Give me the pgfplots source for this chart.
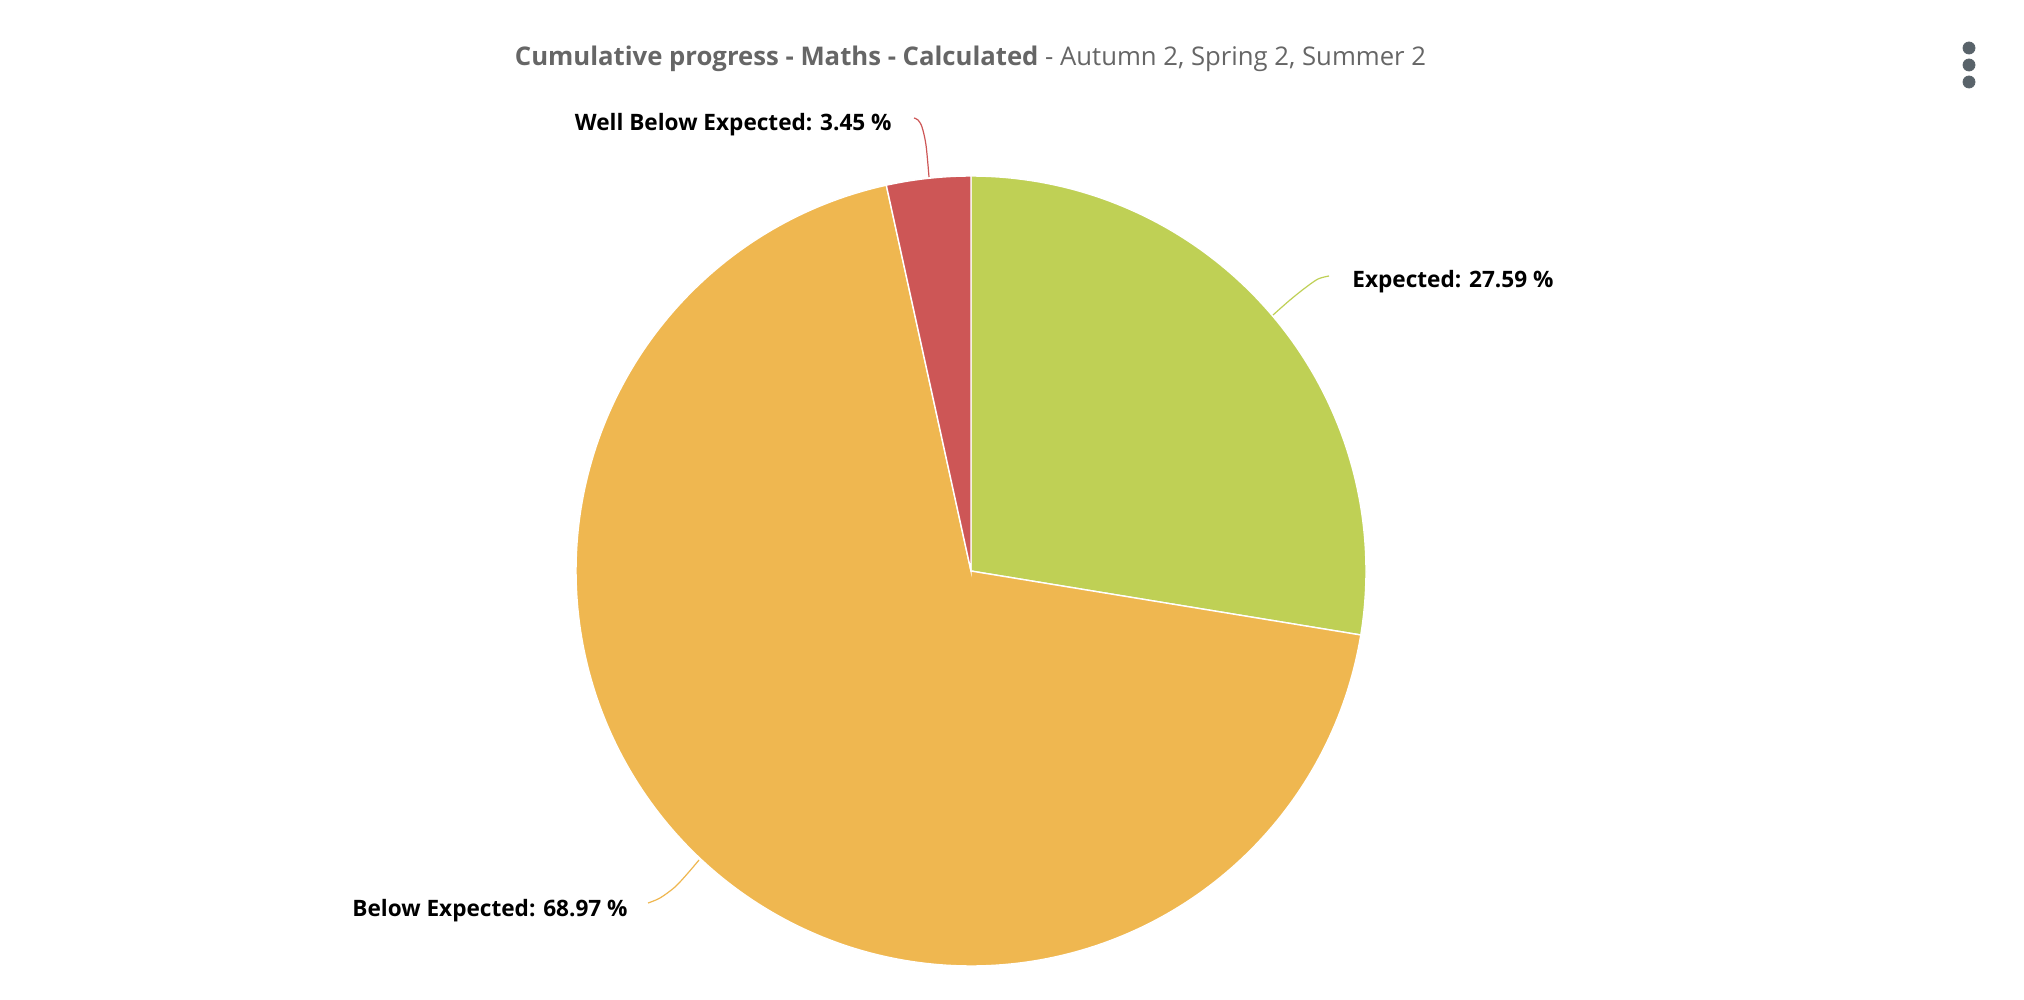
\documentclass[border=0pt]{standalone}
\usepackage{pgfplots}
\pgfplotsset{compat=1.18}
\usepackage{fontspec}
\setmainfont{Open Sans}
\definecolor{pgreen}{HTML}{BFD055}
\definecolor{porange}{HTML}{EFB750}
\definecolor{pred}{HTML}{CD5656}
\definecolor{ptitle}{HTML}{666666}
\definecolor{pdots}{HTML}{59636A}
\begin{document}
\begin{tikzpicture}
\begin{axis}[
  scale only axis, width=1012pt, height=500pt,
  xmin=0, xmax=2024, ymin=0, ymax=1000, y dir=reverse,
  hide axis, clip=false, trig format plots=deg,
]
% invisible frame for page size
\addplot[draw=none, fill=white] coordinates {(0,0) (2024,0) (2024,1000) (0,1000)} -- cycle;
% pie slices: Expected 27.59, Below Expected 68.97, Well Below Expected 3.45 (percent, clockwise from top)
\addplot[fill=pgreen, draw=white, line width=0.7pt, domain=0:27.59, samples=120, variable=\t]
  ({971+395*sin(3.6*\t)}, {571-395*cos(3.6*\t)}) -- (axis cs:971,571) -- cycle;
\addplot[fill=porange, draw=white, line width=0.7pt, domain=27.59:96.56, samples=240, variable=\t]
  ({971+395*sin(3.6*\t)}, {571-395*cos(3.6*\t)}) -- (axis cs:971,571) -- cycle;
\addplot[fill=pred, draw=white, line width=0.7pt, domain=96.56:100, samples=30, variable=\t]
  ({971+395*sin(3.6*\t)}, {571-395*cos(3.6*\t)}) -- (axis cs:971,571) -- cycle;
% connectors
\addplot[pgreen, line width=0.6pt, smooth] coordinates {(1273,315) (1290,300) (1305,288) (1318,279) (1329,276)};
\addplot[porange, line width=0.6pt, smooth] coordinates {(699,860) (688,873) (675,887) (660,898) (648,903)};
\addplot[pred, line width=0.6pt, smooth] coordinates {(929,177) (926,145) (922,127) (918,120) (914,118)};
% menu dots
\addplot[only marks, mark=*, mark size=3pt, color=pdots] coordinates {(1969,48) (1969,65) (1969,82)};
% labels
\node[anchor=base west, inner sep=0, font=\bfseries\fontsize{11.3pt}{13pt}\selectfont] at (axis cs:1352,288) {Expected: 27.59 \%};
\node[anchor=base east, inner sep=0, font=\bfseries\fontsize{11.3pt}{13pt}\selectfont] at (axis cs:892,131) {Well Below Expected: 3.45 \%};
\node[anchor=base east, inner sep=0, font=\bfseries\fontsize{11.3pt}{13pt}\selectfont] at (axis cs:628,916) {Below Expected: 68.97 \%};
% title
\node[anchor=base, inner sep=0, text=ptitle, font=\fontsize{12.85pt}{15pt}\selectfont] at (axis cs:970.5,66) {\textbf{Cumulative progress - Maths - Calculated} - Autumn 2, Spring 2, Summer 2};
\end{axis}
\end{tikzpicture}
\end{document}
